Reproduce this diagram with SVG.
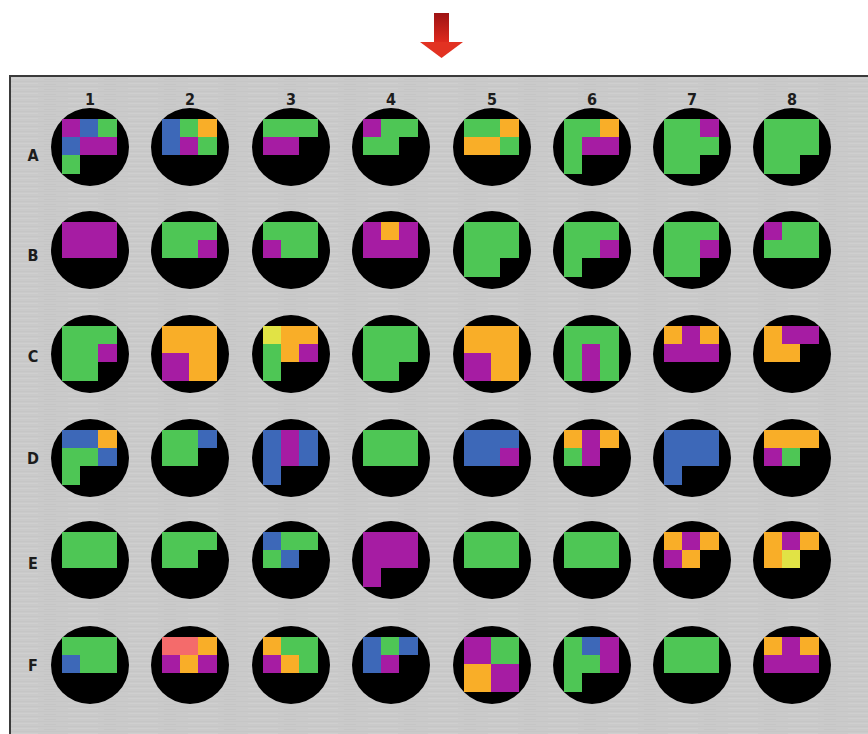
<svg xmlns="http://www.w3.org/2000/svg" width="868" height="734" viewBox="0 0 868 734">
<defs>
<style>
.lbl{font-family:"DejaVu Sans Condensed","DejaVu Sans","Liberation Sans",sans-serif;font-stretch:condensed;font-weight:bold;font-size:16px;fill:#1c1c1c;text-anchor:middle}
.well{fill:#000}
.g{fill:#4ec655}.m{fill:#a61ca3}.b{fill:#3d68b8}.o{fill:#f9ae28}.y{fill:#e1e345}.s{fill:#f46b6b}
rect.g,rect.m,rect.b,rect.o,rect.y,rect.s{shape-rendering:crispEdges}
</style>
<linearGradient id="shaft" x1="0" y1="0" x2="0" y2="1">
<stop offset="0" stop-color="#9e1414"/>
<stop offset="1" stop-color="#e02a1e"/>
</linearGradient>
<pattern id="brush" width="60" height="5" patternUnits="userSpaceOnUse">
<rect width="60" height="5" fill="#cacaca"/>
<rect y="1" width="60" height="1" fill="#c6c6c6"/>
<rect x="8" y="3" width="30" height="1" fill="#cfcfcf"/>
<rect x="44" y="4" width="12" height="1" fill="#c5c5c5"/>
</pattern>
</defs>

<g id="arrow">
<rect x="434" y="13" width="15" height="30" fill="url(#shaft)"/>
<polygon points="420,42 463,42 441.5,58" fill="#e23222"/>
</g>

<g id="plate">
<rect x="10" y="76" width="880" height="700" fill="url(#brush)" stroke="#3a3a3a" stroke-width="2"/>
</g>

<g id="labels">
<text class="lbl" x="90" y="105">1</text>
<text class="lbl" x="190" y="105">2</text>
<text class="lbl" x="291" y="105">3</text>
<text class="lbl" x="391" y="105">4</text>
<text class="lbl" x="492" y="105">5</text>
<text class="lbl" x="592" y="105">6</text>
<text class="lbl" x="692" y="105">7</text>
<text class="lbl" x="792" y="105">8</text>
<text class="lbl" x="33" y="161">A</text>
<text class="lbl" x="33" y="261">B</text>
<text class="lbl" x="33" y="362">C</text>
<text class="lbl" x="33" y="464">D</text>
<text class="lbl" x="33" y="569">E</text>
<text class="lbl" x="33" y="671">F</text>
</g>

<g id="wells">
<g id="A1" transform="translate(62,119)"><circle class="well" cx="28" cy="28" r="39"/>
<rect class="m" x="0" y="0" width="18" height="18"/><rect class="b" x="18" y="0" width="18" height="18"/><rect class="g" x="36" y="0" width="19" height="18"/>
<rect class="b" x="0" y="18" width="18" height="18"/><rect class="m" x="18" y="18" width="37" height="18"/><rect class="g" x="0" y="36" width="18" height="19"/></g>
<g id="A2" transform="translate(162,119)"><circle class="well" cx="28" cy="28" r="39"/>
<rect class="b" x="0" y="0" width="18" height="36"/><rect class="g" x="18" y="0" width="18" height="18"/><rect class="o" x="36" y="0" width="19" height="18"/>
<rect class="m" x="18" y="18" width="18" height="18"/><rect class="g" x="36" y="18" width="19" height="18"/></g>
<g id="A3" transform="translate(263,119)"><circle class="well" cx="28" cy="28" r="39"/>
<rect class="g" x="0" y="0" width="55" height="18"/><rect class="m" x="0" y="18" width="36" height="18"/></g>
<g id="A4" transform="translate(363,119)"><circle class="well" cx="28" cy="28" r="39"/>
<rect class="m" x="0" y="0" width="18" height="18"/><rect class="g" x="18" y="0" width="37" height="18"/><rect class="g" x="0" y="18" width="36" height="18"/></g>
<g id="A5" transform="translate(464,119)"><circle class="well" cx="28" cy="28" r="39"/>
<rect class="g" x="0" y="0" width="36" height="18"/><rect class="o" x="36" y="0" width="19" height="18"/><rect class="o" x="0" y="18" width="36" height="18"/><rect class="g" x="36" y="18" width="19" height="18"/></g>
<g id="A6" transform="translate(564,119)"><circle class="well" cx="28" cy="28" r="39"/>
<rect class="g" x="0" y="0" width="18" height="55"/><rect class="g" x="18" y="0" width="18" height="18"/><rect class="o" x="36" y="0" width="19" height="18"/><rect class="m" x="18" y="18" width="37" height="18"/></g>
<g id="A7" transform="translate(664,119)"><circle class="well" cx="28" cy="28" r="39"/>
<rect class="g" x="0" y="0" width="36" height="55"/><rect class="m" x="36" y="0" width="19" height="18"/><rect class="g" x="36" y="18" width="19" height="18"/></g>
<g id="A8" transform="translate(764,119)"><circle class="well" cx="28" cy="28" r="39"/>
<rect class="g" x="0" y="0" width="55" height="36"/><rect class="g" x="0" y="36" width="36" height="19"/></g>

<g id="B1" transform="translate(62,222)"><circle class="well" cx="28" cy="28" r="39"/>
<rect class="m" x="0" y="0" width="55" height="36"/></g>
<g id="B2" transform="translate(162,222)"><circle class="well" cx="28" cy="28" r="39"/>
<rect class="g" x="0" y="0" width="55" height="36"/><rect class="m" x="36" y="18" width="19" height="18"/></g>
<g id="B3" transform="translate(263,222)"><circle class="well" cx="28" cy="28" r="39"/>
<rect class="g" x="0" y="0" width="55" height="36"/><rect class="m" x="0" y="18" width="18" height="18"/></g>
<g id="B4" transform="translate(363,222)"><circle class="well" cx="28" cy="28" r="39"/>
<rect class="m" x="0" y="0" width="55" height="36"/><rect class="o" x="18" y="0" width="18" height="18"/></g>
<g id="B5" transform="translate(464,222)"><circle class="well" cx="28" cy="28" r="39"/>
<rect class="g" x="0" y="0" width="55" height="36"/><rect class="g" x="0" y="36" width="36" height="19"/></g>
<g id="B6" transform="translate(564,222)"><circle class="well" cx="28" cy="28" r="39"/>
<rect class="g" x="0" y="0" width="55" height="36"/><rect class="m" x="36" y="18" width="19" height="18"/><rect class="g" x="0" y="36" width="18" height="19"/></g>
<g id="B7" transform="translate(664,222)"><circle class="well" cx="28" cy="28" r="39"/>
<rect class="g" x="0" y="0" width="55" height="36"/><rect class="m" x="36" y="18" width="19" height="18"/><rect class="g" x="0" y="36" width="36" height="19"/></g>
<g id="B8" transform="translate(764,222)"><circle class="well" cx="28" cy="28" r="39"/>
<rect class="g" x="0" y="0" width="55" height="36"/><rect class="m" x="0" y="0" width="18" height="18"/></g>

<g id="C1" transform="translate(62,326)"><circle class="well" cx="28" cy="28" r="39"/>
<rect class="g" x="0" y="0" width="55" height="36"/><rect class="m" x="36" y="18" width="19" height="18"/><rect class="g" x="0" y="36" width="36" height="19"/></g>
<g id="C2" transform="translate(162,326)"><circle class="well" cx="28" cy="28" r="39"/>
<rect class="o" x="0" y="0" width="55" height="55"/><rect class="m" x="0" y="27" width="27" height="28"/></g>
<g id="C3" transform="translate(263,326)"><circle class="well" cx="28" cy="28" r="39"/>
<rect class="y" x="0" y="0" width="18" height="18"/><rect class="o" x="18" y="0" width="37" height="18"/><rect class="g" x="0" y="18" width="18" height="37"/><rect class="o" x="18" y="18" width="18" height="18"/><rect class="m" x="36" y="18" width="19" height="18"/></g>
<g id="C4" transform="translate(363,326)"><circle class="well" cx="28" cy="28" r="39"/>
<rect class="g" x="0" y="0" width="55" height="36"/><rect class="g" x="0" y="36" width="36" height="19"/></g>
<g id="C5" transform="translate(464,326)"><circle class="well" cx="28" cy="28" r="39"/>
<rect class="o" x="0" y="0" width="55" height="55"/><rect class="m" x="0" y="27" width="27" height="28"/></g>
<g id="C6" transform="translate(564,326)"><circle class="well" cx="28" cy="28" r="39"/>
<rect class="g" x="0" y="0" width="55" height="55"/><rect class="m" x="18" y="18" width="18" height="37"/></g>
<g id="C7" transform="translate(664,326)"><circle class="well" cx="28" cy="28" r="39"/>
<rect class="o" x="0" y="0" width="55" height="18"/><rect class="m" x="18" y="0" width="18" height="18"/><rect class="m" x="0" y="18" width="55" height="18"/></g>
<g id="C8" transform="translate(764,326)"><circle class="well" cx="28" cy="28" r="39"/>
<rect class="o" x="0" y="0" width="18" height="36"/><rect class="m" x="18" y="0" width="37" height="18"/><rect class="o" x="18" y="18" width="18" height="18"/></g>

<g id="D1" transform="translate(62,430)"><circle class="well" cx="28" cy="28" r="39"/>
<rect class="b" x="0" y="0" width="36" height="18"/><rect class="o" x="36" y="0" width="19" height="18"/><rect class="g" x="0" y="18" width="36" height="18"/><rect class="b" x="36" y="18" width="19" height="18"/><rect class="g" x="0" y="36" width="18" height="19"/></g>
<g id="D2" transform="translate(162,430)"><circle class="well" cx="28" cy="28" r="39"/>
<rect class="g" x="0" y="0" width="36" height="36"/><rect class="b" x="36" y="0" width="19" height="18"/></g>
<g id="D3" transform="translate(263,430)"><circle class="well" cx="28" cy="28" r="39"/>
<rect class="b" x="0" y="0" width="18" height="55"/><rect class="m" x="18" y="0" width="18" height="36"/><rect class="b" x="36" y="0" width="19" height="36"/></g>
<g id="D4" transform="translate(363,430)"><circle class="well" cx="28" cy="28" r="39"/>
<rect class="g" x="0" y="0" width="55" height="36"/></g>
<g id="D5" transform="translate(464,430)"><circle class="well" cx="28" cy="28" r="39"/>
<rect class="b" x="0" y="0" width="55" height="36"/><rect class="m" x="36" y="18" width="19" height="18"/></g>
<g id="D6" transform="translate(564,430)"><circle class="well" cx="28" cy="28" r="39"/>
<rect class="o" x="0" y="0" width="18" height="18"/><rect class="m" x="18" y="0" width="18" height="36"/><rect class="o" x="36" y="0" width="19" height="18"/><rect class="g" x="0" y="18" width="18" height="18"/></g>
<g id="D7" transform="translate(664,430)"><circle class="well" cx="28" cy="28" r="39"/>
<rect class="b" x="0" y="0" width="55" height="36"/><rect class="b" x="0" y="36" width="18" height="19"/></g>
<g id="D8" transform="translate(764,430)"><circle class="well" cx="28" cy="28" r="39"/>
<rect class="o" x="0" y="0" width="55" height="18"/><rect class="m" x="0" y="18" width="18" height="18"/><rect class="g" x="18" y="18" width="18" height="18"/></g>

<g id="E1" transform="translate(62,532)"><circle class="well" cx="28" cy="28" r="39"/>
<rect class="g" x="0" y="0" width="55" height="36"/></g>
<g id="E2" transform="translate(162,532)"><circle class="well" cx="28" cy="28" r="39"/>
<rect class="g" x="0" y="0" width="55" height="18"/><rect class="g" x="0" y="18" width="36" height="18"/></g>
<g id="E3" transform="translate(263,532)"><circle class="well" cx="28" cy="28" r="39"/>
<rect class="b" x="0" y="0" width="18" height="18"/><rect class="g" x="18" y="0" width="37" height="18"/><rect class="g" x="0" y="18" width="18" height="18"/><rect class="b" x="18" y="18" width="18" height="18"/></g>
<g id="E4" transform="translate(363,532)"><circle class="well" cx="28" cy="28" r="39"/>
<rect class="m" x="0" y="0" width="55" height="36"/><rect class="m" x="0" y="36" width="18" height="19"/></g>
<g id="E5" transform="translate(464,532)"><circle class="well" cx="28" cy="28" r="39"/>
<rect class="g" x="0" y="0" width="55" height="36"/></g>
<g id="E6" transform="translate(564,532)"><circle class="well" cx="28" cy="28" r="39"/>
<rect class="g" x="0" y="0" width="55" height="36"/></g>
<g id="E7" transform="translate(664,532)"><circle class="well" cx="28" cy="28" r="39"/>
<rect class="o" x="0" y="0" width="55" height="18"/><rect class="m" x="18" y="0" width="18" height="18"/><rect class="m" x="0" y="18" width="18" height="18"/><rect class="o" x="18" y="18" width="18" height="18"/></g>
<g id="E8" transform="translate(764,532)"><circle class="well" cx="28" cy="28" r="39"/>
<rect class="o" x="0" y="0" width="55" height="18"/><rect class="m" x="18" y="0" width="18" height="18"/><rect class="o" x="0" y="18" width="18" height="18"/><rect class="y" x="18" y="18" width="18" height="18"/></g>

<g id="F1" transform="translate(62,637)"><circle class="well" cx="28" cy="28" r="39"/>
<rect class="g" x="0" y="0" width="55" height="36"/><rect class="b" x="0" y="18" width="18" height="18"/></g>
<g id="F2" transform="translate(162,637)"><circle class="well" cx="28" cy="28" r="39"/>
<rect class="s" x="0" y="0" width="36" height="18"/><rect class="o" x="36" y="0" width="19" height="18"/><rect class="m" x="0" y="18" width="18" height="18"/><rect class="o" x="18" y="18" width="18" height="18"/><rect class="m" x="36" y="18" width="19" height="18"/></g>
<g id="F3" transform="translate(263,637)"><circle class="well" cx="28" cy="28" r="39"/>
<rect class="o" x="0" y="0" width="18" height="18"/><rect class="g" x="18" y="0" width="37" height="36"/><rect class="m" x="0" y="18" width="18" height="18"/><rect class="o" x="18" y="18" width="18" height="18"/></g>
<g id="F4" transform="translate(363,637)"><circle class="well" cx="28" cy="28" r="39"/>
<rect class="b" x="0" y="0" width="18" height="36"/><rect class="g" x="18" y="0" width="18" height="18"/><rect class="b" x="36" y="0" width="19" height="18"/><rect class="m" x="18" y="18" width="18" height="18"/></g>
<g id="F5" transform="translate(464,637)"><circle class="well" cx="28" cy="28" r="39"/>
<rect class="m" x="0" y="0" width="27" height="27"/><rect class="g" x="27" y="0" width="28" height="27"/><rect class="o" x="0" y="27" width="27" height="28"/><rect class="m" x="27" y="27" width="28" height="28"/></g>
<g id="F6" transform="translate(564,637)"><circle class="well" cx="28" cy="28" r="39"/>
<rect class="g" x="0" y="0" width="18" height="55"/><rect class="b" x="18" y="0" width="18" height="18"/><rect class="m" x="36" y="0" width="19" height="36"/><rect class="g" x="18" y="18" width="18" height="18"/></g>
<g id="F7" transform="translate(664,637)"><circle class="well" cx="28" cy="28" r="39"/>
<rect class="g" x="0" y="0" width="55" height="36"/></g>
<g id="F8" transform="translate(764,637)"><circle class="well" cx="28" cy="28" r="39"/>
<rect class="o" x="0" y="0" width="55" height="18"/><rect class="m" x="18" y="0" width="18" height="18"/><rect class="m" x="0" y="18" width="55" height="18"/></g>
</g>

<g id="connectors"/>
</svg>
